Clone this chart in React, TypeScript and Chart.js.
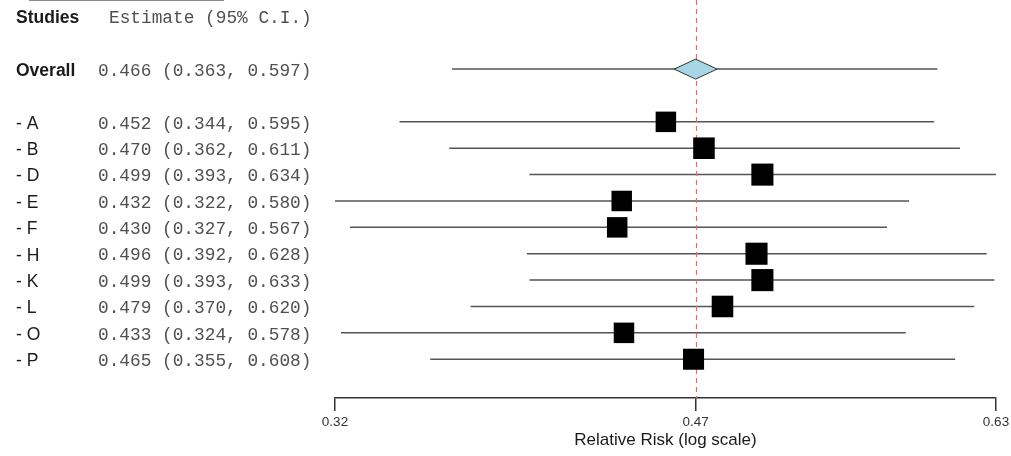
import { useEffect, useRef } from 'react';
import { Chart, registerables } from 'chart.js';

Chart.register(...registerables);

// Study-level relative risks with 95% confidence intervals
const studies = ['A', 'B', 'D', 'E', 'F', 'H', 'K', 'L', 'O', 'P'];
const estimates = [0.452, 0.470, 0.499, 0.432, 0.430, 0.496, 0.499, 0.479, 0.433, 0.465];
const lowerCI = [0.344, 0.362, 0.393, 0.322, 0.327, 0.392, 0.393, 0.370, 0.324, 0.355];
const upperCI = [0.595, 0.611, 0.634, 0.580, 0.567, 0.628, 0.633, 0.620, 0.578, 0.608];
// Relative study weights (%), used to size the boxes
const weights = [9.3, 10.3, 10.8, 9.3, 9.3, 10.8, 10.8, 10.3, 9.3, 9.8];

// Pooled estimate
const overallEstimate = 0.466;
const overallLower = 0.363;
const overallUpper = 0.597;

// Axis: runs from the smallest lower bound to the largest upper bound
const axisMin = 0.322;
const axisMax = 0.634;
const axisTicks = [0.322, 0.466, 0.634];

const HEADER_ROW = 0;
const OVERALL_ROW = 2;
const FIRST_STUDY_ROW = 4;

const SANS = '"Liberation Sans", Arial, sans-serif';
const MONO = '"Liberation Mono", "Courier New", monospace';

const fmt = (v: number) => v.toFixed(3);
const ciText = (e: number, lo: number, hi: number) => `${fmt(e)} (${fmt(lo)}, ${fmt(hi)})`;

const forestPlugin = {
  id: 'forestDecor',
  beforeDatasetDraw(chart: any, args: any) {
    // reference line at the pooled estimate, under the boxes
    if (args.index !== 1) return;
    const { ctx, chartArea } = chart;
    const x = Math.round(chart.scales.x.getPixelForValue(overallEstimate)) + 0.5;
    ctx.save();
    ctx.setLineDash([5, 4]);
    ctx.strokeStyle = '#ec6a5a';
    ctx.lineWidth = 1.2;
    ctx.beginPath();
    ctx.moveTo(x, chartArea.top);
    ctx.lineTo(x, chartArea.bottom);
    ctx.stroke();
    ctx.restore();
  },
  afterDatasetsDraw(chart: any) {
    // pooled-estimate diamond
    const { ctx } = chart;
    const x = chart.scales.x.getPixelForValue(overallEstimate);
    const y = chart.scales.y.getPixelForValue(OVERALL_ROW);
    const hw = 21.5;
    const hh = 10;
    ctx.save();
    ctx.beginPath();
    ctx.moveTo(x - hw, y);
    ctx.lineTo(x, y - hh);
    ctx.lineTo(x + hw, y);
    ctx.lineTo(x, y + hh);
    ctx.closePath();
    ctx.fillStyle = '#a7d6e4';
    ctx.fill();
    ctx.strokeStyle = '#333';
    ctx.lineWidth = 1;
    ctx.stroke();
    ctx.restore();
  },
  afterDraw(chart: any) {
    const { ctx } = chart;
    const yScale = chart.scales.y;
    const rowY = (row: number) => yScale.getPixelForValue(row) + 2;
    ctx.save();
    ctx.textBaseline = 'middle';
    ctx.textAlign = 'left';

    // thin rule across the top of the table
    ctx.strokeStyle = '#8a8a8a';
    ctx.lineWidth = 1;
    ctx.beginPath();
    ctx.moveTo(29, 0.5);
    ctx.lineTo(224, 0.5);
    ctx.stroke();

    // header
    ctx.fillStyle = '#1a1a1a';
    ctx.font = `bold 17.5px ${SANS}`;
    ctx.fillText('Studies', 16, rowY(HEADER_ROW));
    ctx.fillStyle = '#505050';
    ctx.font = `17.8px ${MONO}`;
    ctx.fillText('Estimate (95% C.I.)', 109, rowY(HEADER_ROW));

    // overall
    ctx.fillStyle = '#1a1a1a';
    ctx.font = `bold 17.5px ${SANS}`;
    ctx.fillText('Overall', 16, rowY(OVERALL_ROW));
    ctx.fillStyle = '#505050';
    ctx.font = `17.8px ${MONO}`;
    ctx.fillText(ciText(overallEstimate, overallLower, overallUpper), 98, rowY(OVERALL_ROW));

    // studies
    studies.forEach((name, i) => {
      const y = rowY(FIRST_STUDY_ROW + i);
      ctx.fillStyle = '#1a1a1a';
      ctx.font = `17.5px ${SANS}`;
      ctx.fillText(`- ${name}`, 16, y);
      ctx.fillStyle = '#505050';
      ctx.font = `17.8px ${MONO}`;
      ctx.fillText(ciText(estimates[i], lowerCI[i], upperCI[i]), 98, y);
    });
    ctx.restore();
  },
};

export default function App() {
  const canvasRef = useRef<HTMLCanvasElement | null>(null);

  useEffect(() => {
    const canvas = canvasRef.current;
    if (!canvas) return;

    // confidence-interval segments, broken by null gaps
    const ciData: { x: number; y: number | null }[] = [];
    const addSegment = (lo: number, hi: number, row: number) => {
      ciData.push({ x: lo, y: row }, { x: hi, y: row }, { x: hi, y: null });
    };
    addSegment(overallLower, overallUpper, OVERALL_ROW);
    studies.forEach((_, i) => addSegment(lowerCI[i], upperCI[i], FIRST_STUDY_ROW + i));

    const boxData = studies.map((_, i) => ({ x: estimates[i], y: FIRST_STUDY_ROW + i }));
    const boxRadius = weights.map((w) => (6.72 * Math.sqrt(w)) / Math.SQRT2);

    const chart = new Chart(canvas, {
      type: 'scatter',
      data: {
        datasets: [
          {
            type: 'line',
            data: ciData as any,
            borderColor: '#555',
            borderWidth: 1.5,
            pointRadius: 0,
            spanGaps: false,
            fill: false,
            clip: false as any,
            order: 2,
          },
          {
            type: 'scatter',
            data: boxData,
            pointStyle: 'rect',
            pointRadius: boxRadius,
            backgroundColor: '#000',
            borderColor: '#000',
            borderWidth: 0,
            clip: false as any,
            order: 1,
          },
        ],
      },
      options: {
        responsive: false,
        animation: false,
        events: [],
        layout: { autoPadding: false, padding: { left: 335, right: 15, top: 0, bottom: 0 } },
        plugins: {
          legend: { display: false },
          tooltip: { enabled: false },
        },
        scales: {
          x: {
            type: 'logarithmic',
            position: 'bottom',
            bounds: 'data',
            min: axisMin,
            max: axisMax,
            afterBuildTicks: (scale: any) => {
              scale.ticks = axisTicks.map((v) => ({ value: v }));
              scale.min = axisMin;
              scale.max = axisMax;
            },
            afterFit: (scale: any) => {
              scale.height = 58;
              scale.paddingLeft = 0;
              scale.paddingRight = 0;
            },
            ticks: {
              autoSkip: false,
              maxRotation: 0,
              padding: 3,
              color: '#333',
              font: { family: SANS, size: 13.5 },
              callback: (v: any) => Number(v).toFixed(2),
            },
            grid: {
              drawOnChartArea: false,
              drawTicks: true,
              tickLength: 13,
              color: '#333',
              lineWidth: 1.5,
            },
            border: { display: true, color: '#333', width: 1.5 },
            title: {
              display: true,
              text: 'Relative Risk (log scale)',
              color: '#1a1a1a',
              font: { family: SANS, size: 17 },
              padding: { top: 0, bottom: 5 },
            },
          },
          y: {
            type: 'linear',
            reverse: true,
            min: -0.62,
            max: 14.47,
            display: false,
          },
        },
      },
      plugins: [forestPlugin],
    });

    return () => chart.destroy();
  }, []);

  return (
    <div style={{ position: 'fixed', left: 0, top: 0, width: 1011, height: 456, background: '#fff' }}>
      <canvas ref={canvasRef} width={1011} height={456} style={{ display: 'block' }} />
    </div>
  );
}
